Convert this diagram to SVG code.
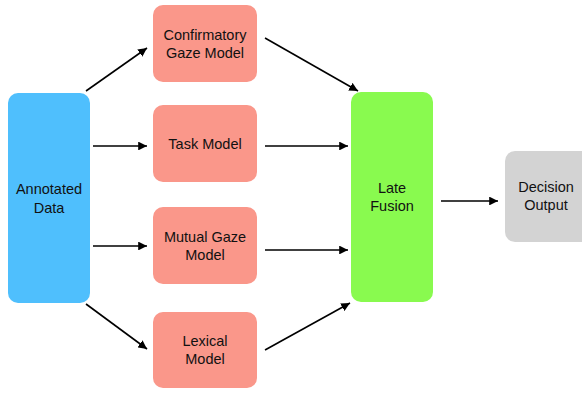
<svg xmlns="http://www.w3.org/2000/svg" width="582" height="393" viewBox="0 0 582 393">
<style>
text{font-family:"Liberation Sans",Arial,sans-serif;font-size:14.5px;fill:#111;text-anchor:middle}
.m{fill:#FA978A}
.e{stroke:#000;stroke-width:1.6;fill:none;marker-end:url(#ah)}
</style>
<defs>
<marker id="ah" viewBox="0 0 10 10" refX="10" refY="5" markerWidth="5.5" markerHeight="5.5" orient="auto" markerUnits="strokeWidth">
<path d="M0,0 L10,5 L0,10 z" fill="#000"/>
</marker>
</defs>
<rect width="582" height="393" fill="#fff"/>
<g id="annotated">
<rect x="8" y="93" width="82" height="210" rx="10" fill="#4FBFFD"/>
<text x="49" y="194">Annotated</text>
<text x="49" y="213">Data</text>
</g>
<g id="confirmatory">
<rect class="m" x="153" y="5" width="104" height="77" rx="10"/>
<text x="205" y="40">Confirmatory</text>
<text x="205" y="58">Gaze Model</text>
</g>
<g id="task">
<rect class="m" x="153" y="105" width="104" height="77" rx="10"/>
<text x="205" y="149">Task Model</text>
</g>
<g id="mutual">
<rect class="m" x="153" y="207" width="104" height="77" rx="10"/>
<text x="205" y="242">Mutual Gaze</text>
<text x="205" y="260">Model</text>
</g>
<g id="lexical">
<rect class="m" x="153" y="312" width="104" height="76" rx="10"/>
<text x="205" y="346">Lexical</text>
<text x="205" y="364">Model</text>
</g>
<g id="fusion">
<rect x="351" y="92" width="82" height="210" rx="10" fill="#89FA4F"/>
<text x="392" y="193">Late</text>
<text x="392" y="211">Fusion</text>
</g>
<g id="decision">
<rect x="505" y="151" width="90" height="91" rx="10" fill="#D3D3D3"/>
<text x="546" y="192">Decision</text>
<text x="546" y="210">Output</text>
</g>
<g id="connectors">
<line class="e" x1="86" y1="91" x2="147" y2="48"/>
<line class="e" x1="93" y1="146" x2="147" y2="146"/>
<line class="e" x1="93" y1="246" x2="147" y2="246"/>
<line class="e" x1="86" y1="304" x2="147" y2="349"/>
<line class="e" x1="265" y1="38" x2="358" y2="91"/>
<line class="e" x1="265" y1="146" x2="348" y2="146"/>
<line class="e" x1="265" y1="250" x2="348" y2="250"/>
<line class="e" x1="265" y1="350" x2="350" y2="303"/>
<line class="e" x1="441" y1="201" x2="498" y2="201"/>
</g>
</svg>
